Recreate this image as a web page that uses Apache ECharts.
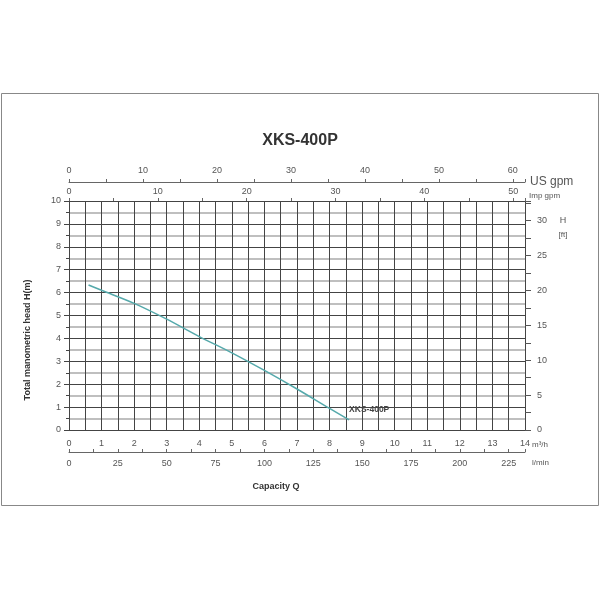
<!DOCTYPE html>
<html>
<head>
<meta charset="utf-8">
<script src="https://cdn.jsdelivr.net/npm/echarts@6/dist/echarts.min.js"></script>
<style>
  html, body { margin: 0; padding: 0; background: #fff; }
  #chart { width: 600px; height: 600px; }
</style>
</head>
<body>
<div id="chart"></div>
<script>
// pump curve: flow in m3/h, head in m
var flowM3h = [0.6, 1, 2, 3, 4, 5, 6, 7, 8, 8.6];
var headM = [6.33, 6.1, 5.53, 4.84, 4.08, 3.37, 2.6, 1.79, 0.94, 0.44];
var modelName = 'XKS-400P';

// axis ranges (main scale), other scales are unit conversions of it
var qMax = 14;
var hMax = 10;
var US_GPM = 4.4029;   // per m3/h
var IMP_GPM = 3.6662;  // per m3/h
var L_MIN = 16.6667;   // per m3/h
var FT = 3.28084;      // per m

var data = flowM3h.map(function (q, i) { return [q, headM[i]]; });

var FONT = 'Liberation Sans, Arial, sans-serif';
var labelFont = { color: '#555', fontSize: 9, fontFamily: FONT };

var chart = echarts.init(document.getElementById('chart'), null, { renderer: 'canvas' });

var option = {
    animation: false,
    backgroundColor: '#fff',
    title: {
        text: modelName,
        left: 'center',
        top: 128,
        textStyle: { fontSize: 16, fontWeight: 'bold', color: '#333', fontFamily: FONT }
    },
    grid: { left: 69, right: 75, top: 201, bottom: 170 },
    xAxis: [
        {   // m3/h
            type: 'value', position: 'bottom', min: 0, max: qMax, interval: 1,
            axisLine: { show: false, onZero: false },
            axisTick: { show: false },
            axisLabel: Object.assign({ margin: 9 }, labelFont),
            splitLine: { show: true, lineStyle: { color: '#444', width: 1 } },
            minorTick: { show: false, splitNumber: 2 },
            minorSplitLine: { show: true, lineStyle: { color: '#444', width: 1 } }
        },
        {   // l/min
            type: 'value', position: 'bottom', offset: 22, min: 0, max: qMax * L_MIN, interval: 25,
            axisLine: { show: true, onZero: false, lineStyle: { color: '#666' } },
            axisTick: { show: true, inside: true, length: 3, lineStyle: { color: '#666' } },
            minorTick: { show: true, splitNumber: 2, length: 3, lineStyle: { color: '#666' } },
            axisLabel: Object.assign({ margin: 7, showMaxLabel: false }, labelFont),
            splitLine: { show: false }
        },
        {   // US gpm
            type: 'value', position: 'top', offset: 19, min: 0, max: qMax * US_GPM, interval: 10,
            axisLine: { show: true, onZero: false, lineStyle: { color: '#666' } },
            axisTick: { show: true, length: 3, lineStyle: { color: '#666' } },
            minorTick: { show: true, splitNumber: 2, length: 3, lineStyle: { color: '#666' } },
            axisLabel: Object.assign({ margin: 7, showMaxLabel: false }, labelFont),
            splitLine: { show: false }
        },
        {   // Imp gpm
            type: 'value', position: 'top', offset: 0, min: 0, max: qMax * IMP_GPM, interval: 10,
            axisLine: { show: false, onZero: false },
            axisTick: { show: true, length: 3, lineStyle: { color: '#666' } },
            minorTick: { show: true, splitNumber: 2, length: 3, lineStyle: { color: '#666' } },
            axisLabel: Object.assign({ margin: 5, showMaxLabel: false }, labelFont),
            splitLine: { show: false }
        }
    ],
    yAxis: [
        {   // m
            type: 'value', position: 'left', min: 0, max: hMax, interval: 1,
            axisLine: { show: true, onZero: false, lineStyle: { color: '#444' } },
            axisTick: { show: true, length: 5, lineStyle: { color: '#444' } },
            minorTick: { show: false, splitNumber: 2 },
            axisLabel: Object.assign({ margin: 8 }, labelFont),
            splitLine: { show: true, lineStyle: { color: '#444', width: 1 } },
            minorSplitLine: { show: true, lineStyle: { color: '#aaa', width: 1.5 } }
        },
        {   // ft
            type: 'value', position: 'right', min: 0, max: hMax * FT, interval: 5,
            axisLine: { show: true, onZero: false, lineStyle: { color: '#444' } },
            axisTick: { show: true, length: 6, lineStyle: { color: '#555' } },
            minorTick: { show: true, splitNumber: 2, length: 6, lineStyle: { color: '#555' } },
            axisLabel: Object.assign({ margin: 12, showMaxLabel: false }, labelFont),
            splitLine: { show: false }
        },
        {   // half-metre ticks on the left
            type: 'value', position: 'left', min: 0, max: hMax, interval: 0.5,
            axisLine: { show: false, onZero: false },
            axisTick: { show: true, length: 3, lineStyle: { color: '#444' } },
            axisLabel: { show: false },
            splitLine: { show: false }
        }
    ],
    series: [
        {
            name: modelName,
            type: 'line',
            xAxisIndex: 0,
            yAxisIndex: 0,
            data: data,
            smooth: 0.3,
            symbol: 'none',
            lineStyle: { color: '#55a9ab', width: 1.5 },
            endLabel: {
                show: true,
                formatter: modelName,
                offset: [-8, -10],
                fontSize: 8.5,
                fontWeight: 'bold',
                color: '#444',
                fontFamily: FONT
            }
        }
    ],
    graphic: [
        { type: 'rect', shape: { x: 1.5, y: 93.5, width: 597, height: 412 }, style: { fill: 'none', stroke: '#888', lineWidth: 1 }, silent: true },
        { type: 'text', x: 530, y: 182, style: { text: 'US gpm', fontSize: 12, fill: '#555', verticalAlign: 'middle', fontFamily: FONT } },
        { type: 'text', x: 529, y: 196, style: { text: 'Imp gpm', fontSize: 8, fill: '#555', verticalAlign: 'middle', fontFamily: FONT } },
        { type: 'text', x: 563, y: 221, style: { text: 'H', fontSize: 9, fill: '#555', align: 'center', verticalAlign: 'middle', fontFamily: FONT } },
        { type: 'text', x: 563, y: 235, style: { text: '[ft]', fontSize: 8, fill: '#555', align: 'center', verticalAlign: 'middle', fontFamily: FONT } },
        { type: 'text', x: 532, y: 445, style: { text: 'm³/h', fontSize: 8, fill: '#555', verticalAlign: 'middle', fontFamily: FONT } },
        { type: 'text', x: 532, y: 463, style: { text: 'l/min', fontSize: 8, fill: '#555', verticalAlign: 'middle', fontFamily: FONT } },
        { type: 'text', x: 276, y: 487, style: { text: 'Capacity Q', fontSize: 9, fontWeight: 'bold', fill: '#333', align: 'center', verticalAlign: 'middle', fontFamily: FONT } },
        { type: 'text', x: 28, y: 340, rotation: Math.PI / 2, style: { text: 'Total manometric head H(m)', fontSize: 9, fontWeight: 'bold', fill: '#333', align: 'center', verticalAlign: 'middle', fontFamily: FONT } }
    ]
};

chart.setOption(option);
window.addEventListener('resize', chart.resize);
</script>
</body>
</html>
